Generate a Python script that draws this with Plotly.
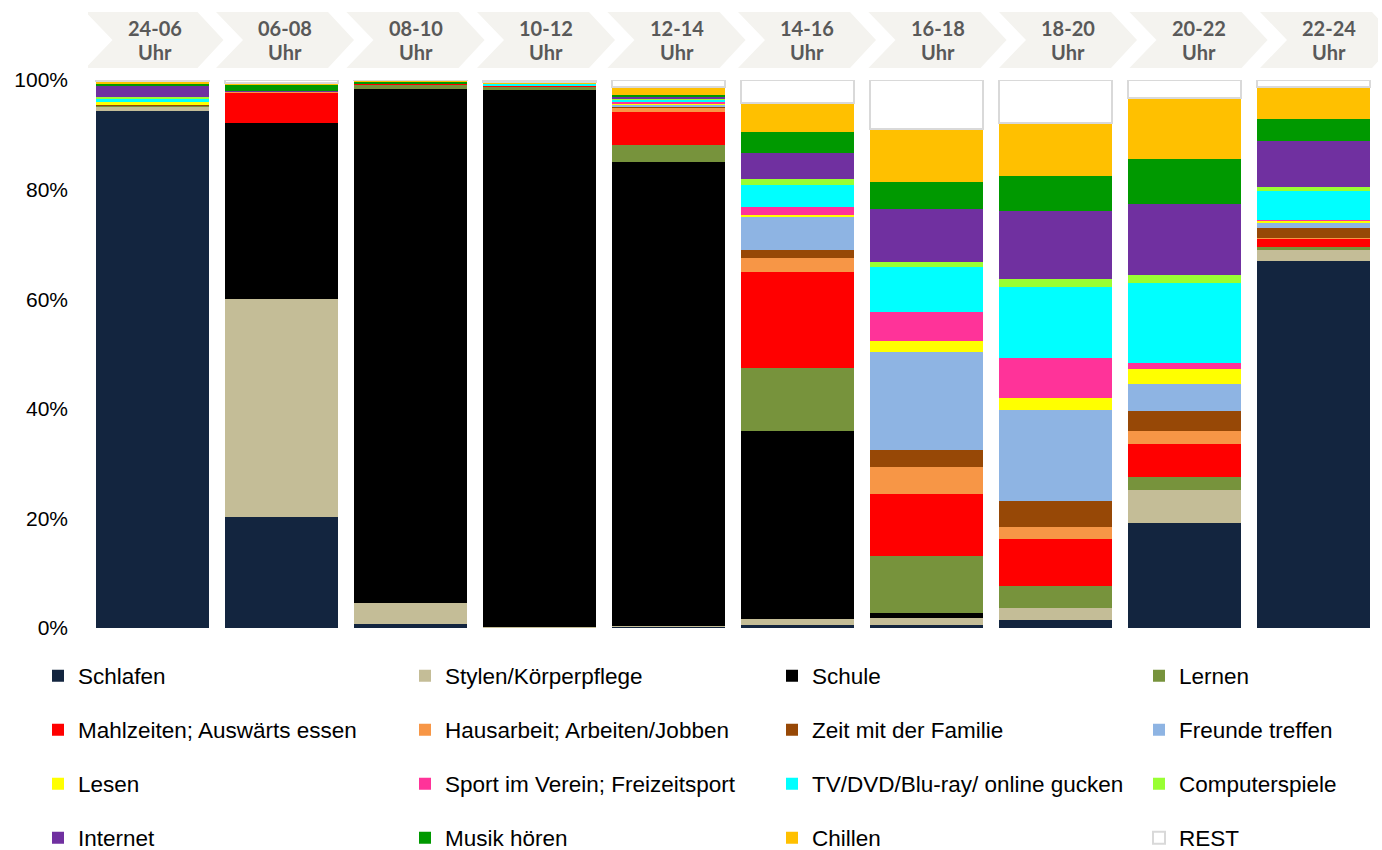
import plotly.graph_objects as go

# Time slots (categories)
slots = ["24-06", "06-08", "08-10", "10-12", "12-14", "14-16", "16-18", "18-20", "20-22", "22-24"]
slot_suffix = "Uhr"

# Series (percent of time slot)
schlafen    = [94.4, 20.3, 0.8, 0.1, 0.2, 0.6, 0.6, 1.4, 19.1, 66.9]
stylen      = [0.8, 39.8, 3.7, 0.1, 0.1, 1.0, 1.3, 2.2, 6.0, 2.0]
schule      = [0.0, 32.0, 93.9, 98.0, 84.8, 34.3, 0.9, 0.0, 0.0, 0.0]
lernen      = [0.1, 0.0, 0.7, 0.6, 2.95, 11.6, 10.4, 4.0, 2.5, 0.6]
mahlzeiten  = [0.1, 5.7, 0.2, 0.25, 6.2, 17.4, 11.2, 8.7, 6.0, 1.5]
hausarbeit  = [0.0, 0.1, 0.0, 0.0, 0.75, 2.7, 4.9, 2.2, 2.3, 0.1]
familie     = [0.1, 0.0, 0.05, 0.0, 0.2, 1.3, 3.1, 4.6, 3.7, 1.9]
freunde     = [0.1, 0.0, 0.0, 0.0, 0.3, 6.2, 17.9, 16.6, 5.0, 0.9]
lesen       = [0.3, 0.0, 0.0, 0.0, 0.3, 0.3, 2.0, 2.2, 2.6, 0.4]
sport       = [0.0, 0.0, 0.0, 0.0, 0.1, 1.35, 5.3, 7.3, 1.2, 0.1]
tv          = [0.8, 0.0, 0.0, 0.3, 0.5, 4.0, 8.2, 13.1, 14.6, 5.3]
computer    = [0.2, 0.0, 0.0, 0.0, 0.2, 1.2, 0.9, 1.3, 1.5, 0.7]
internet    = [2.1, 0.1, 0.0, 0.0, 0.4, 4.8, 9.8, 12.5, 12.9, 8.4]
musik       = [0.3, 1.1, 0.3, 0.0, 0.3, 3.7, 4.9, 6.3, 8.2, 4.1]
chillen     = [0.6, 0.3, 0.3, 0.35, 1.5, 5.4, 9.7, 9.8, 11.1, 5.9]
rest        = [0.1, 0.6, 0.05, 0.3, 1.2, 4.1, 8.9, 7.8, 3.3, 1.2]

series_names = ["Schlafen", "Stylen/Körperpflege", "Schule", "Lernen",
                "Mahlzeiten; Auswärts essen", "Hausarbeit; Arbeiten/Jobben", "Zeit mit der Familie", "Freunde treffen",
                "Lesen", "Sport im Verein; Freizeitsport", "TV/DVD/Blu-ray/ online gucken", "Computerspiele",
                "Internet", "Musik hören", "Chillen", "REST"]
series_values = [schlafen, stylen, schule, lernen, mahlzeiten, hausarbeit, familie, freunde,
                 lesen, sport, tv, computer, internet, musik, chillen, rest]
series_colors = ["#13253F", "#C4BD97", "#000000", "#77933C",
                 "#FF0000", "#F79646", "#974806", "#8EB4E3",
                 "#FFFF00", "#FF3399", "#00FFFF", "#99FF33",
                 "#7030A0", "#009900", "#FFC000", "#FFFFFF"]

W, H = 1382, 850
ML, MR, MT, MB = 88, 4, 80, 222
PW, PH = W - ML - MR, H - MT - MB

fig = go.Figure()
legend_ids = ["legend", "legend2", "legend3", "legend4"]
for i, (name, vals, col) in enumerate(zip(series_names, series_values, series_colors)):
    is_rest = name == "REST"
    fig.add_trace(go.Bar(
        x=slots, y=vals, name=name,
        marker=dict(color=col,
                    line=dict(color="#D9D9D9" if is_rest else col, width=2 if is_rest else 0)),
        legend=legend_ids[i // 4],
        legendwidth=180 if i % 4 == 3 else None,
        hovertemplate="%{x}: %{y}%<extra>" + name + "</extra>",
    ))

# header axis: chevrons spaced slightly differently than the bars
hdr_step = 130.5
hdr_first = 154.5
a = -(hdr_first - ML) / hdr_step
b = a + PW / hdr_step

def py(p):
    return (MT + PH - p) / PH

shapes = []
annotations = []
hw, notch, flat = 69 / hdr_step, 27 / hdr_step, 43 / hdr_step
yt, ym, yb = py(12), py(40), py(68)
hdr_font = dict(family="Lato", size=20, color="#595959", weight="bold")
for i, s in enumerate(slots):
    c = i
    path = (f"M {c-hw},{yt} L {c+flat},{yt} L {c+hw},{ym} L {c+flat},{yb} "
            f"L {c-hw},{yb} L {c-hw+notch},{ym} Z")
    shapes.append(dict(type="path", path=path, xref="x2", yref="paper",
                       fillcolor="#F4F3EF", line=dict(width=0), layer="below"))
    for txt, ypx in ((s, 28), (slot_suffix, 52)):
        annotations.append(dict(x=c, y=py(ypx), xref="x2", yref="paper", text=txt,
                                showarrow=False, xanchor="center", yanchor="middle",
                                font=hdr_font))

legend_rows_px = [676, 730, 784, 838]
leg_common = dict(orientation="h", entrywidth=322, entrywidthmode="pixels",
                  font=dict(family="Liberation Sans, Arial", size=22.5, color="#000000"),
                  x=(38 - ML) / PW, xanchor="left", yanchor="middle",
                  bgcolor="rgba(0,0,0,0)", traceorder="normal")
legends = {}
for lid, rpx in zip(legend_ids, legend_rows_px):
    legends[lid] = dict(leg_common, y=py(rpx))

fig.update_layout(
    width=W, height=H,
    margin=dict(l=ML, r=MR, t=MT, b=MB, autoexpand=False),
    barmode="stack", bargap=0.13,
    plot_bgcolor="white", paper_bgcolor="white",
    xaxis=dict(visible=False, type="category", range=[-0.5, 9.5]),
    xaxis2=dict(visible=False, type="linear", overlaying="x", range=[a, b]),
    yaxis=dict(range=[0, 100], dtick=20, ticksuffix="%", showgrid=False, zeroline=False,
               showline=False, ticks="", ticklabelstandoff=19,
               tickfont=dict(family="Liberation Sans, Arial", size=21, color="#000000")),
    shapes=shapes, annotations=annotations,
    **legends,
)
fig.write_html("out.html")
